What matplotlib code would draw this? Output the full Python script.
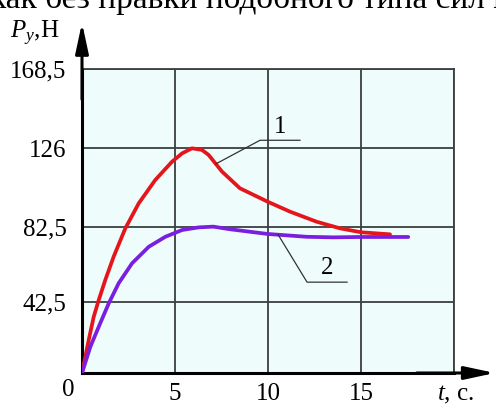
import numpy as np
import matplotlib
matplotlib.use("Agg")
import matplotlib.pyplot as plt
from matplotlib.scale import FuncScale

# ---- data ----
t1 = [0, 0.36, 0.63, 0.90, 1.25, 1.70, 2.33, 3.05, 3.94, 4.84, 5.38, 5.91, 6.45, 6.81,
      7.17, 7.53, 8.49, 9.98, 11.18, 12.62, 13.87, 15.0, 16.56]
p1 = [0, 19.8, 33.8, 43.7, 54.3, 66.7, 81.8, 95.6, 108.5, 118.6, 123.2, 126.0, 125.1, 122.3,
      117.7, 113.1, 103.9, 96.5, 91.0, 85.4, 81.8, 79.7, 78.6]
t2 = [0, 0.45, 0.90, 1.44, 1.97, 2.69, 3.59, 4.48, 5.38, 6.27, 7.06, 7.96, 9.98, 12.08,
      13.51, 15.0, 17.54]
p2 = [0, 15.8, 27.8, 41.9, 52.6, 63.2, 72.0, 77.3, 80.9, 82.3, 82.7, 81.3, 78.8, 77.3,
      77.0, 77.2, 77.2]

x_ticks = [5, 10, 15]
x_ticklabels = ["5", "10", "15"]
y_ticks = [42.5, 82.5, 126, 168.5]
y_ticklabels = ["42,5", "82,5", "126", "168,5"]
# non-uniform vertical scale of the original drawing (value -> relative height)
y_scale_vals = [0, 42.5, 82.5, 126, 168.5]
y_scale_pos = [0, 70.7, 146, 224.7, 304]

label1_line_t = [7.2, 9.57, 11.72]
label1_line_p = [117.4, 130.3, 130.3]
label1_text = (10.65, 137.3, "1")
label2_line_t = [10.54, 12.1, 14.25]
label2_line_p = [78.5, 53.2, 53.2]
label2_text = (13.17, 60.6, "2")

serif = ["Liberation Serif", "DejaVu Serif"]
plt.rcParams["font.family"] = serif
plt.rcParams["mathtext.fontset"] = "custom"
plt.rcParams["mathtext.rm"] = "Liberation Serif"
plt.rcParams["mathtext.it"] = "Liberation Serif:italic"

fig = plt.figure(figsize=(4.96, 4.05), dpi=100)
W, H = 496, 405
ax = fig.add_axes([82 / W, (H - 373) / H, (454 - 82) / W, (373 - 69) / H])

fwd = lambda v: np.interp(v, y_scale_vals, y_scale_pos)
inv = lambda p: np.interp(p, y_scale_pos, y_scale_vals)
ax.set_yscale(FuncScale(ax, (fwd, inv)))

ax.set_facecolor("#effcfc")
ax.set_xlim(0, 20)
ax.set_ylim(0, 168.5)

gridc = "#3a3f3f"
ax.set_xticks([5, 10, 15, 20])
ax.set_yticks(y_ticks)
ax.grid(True, color=gridc, lw=1.3)
ax.set_axisbelow(True)
ax.set_xticklabels(x_ticklabels + [""], fontsize=18)
ax.set_yticklabels(y_ticklabels, fontsize=18)
ax.tick_params(length=0)
ax.tick_params(axis="x", pad=7)
ax.tick_params(axis="y", pad=11)

for s in ["top", "right"]:
    ax.spines[s].set_color(gridc)
    ax.spines[s].set_linewidth(1.3)
for s in ["left", "bottom"]:
    ax.spines[s].set_color("black")
    ax.spines[s].set_linewidth(2.2)

ax.plot(t1, p1, color="#e4161c", lw=2.7, solid_capstyle="round", solid_joinstyle="round", zorder=3)
ax.plot(t2, p2, color="#7a1fe0", lw=2.7, solid_capstyle="round", solid_joinstyle="round", zorder=3)

ax.plot(label1_line_t, label1_line_p, color="#333333", lw=0.9, zorder=4)
ax.plot(label2_line_t, label2_line_p, color="#333333", lw=0.9, zorder=4)
ax.text(label1_text[0], label1_text[1], label1_text[2], fontsize=18, ha="center", va="center")
ax.text(label2_text[0], label2_text[1], label2_text[2], fontsize=18, ha="center", va="center")

# axis arrows
ax.annotate("", xy=(0, 1.152), xytext=(0, 0.9), xycoords="axes fraction",
            arrowprops=dict(arrowstyle="-|>,head_length=1.3,head_width=0.28",
                            color="black", lw=2.2, mutation_scale=14, shrinkA=0, shrinkB=0),
            annotation_clip=False)
ax.annotate("", xy=(1.11, 0), xytext=(0.9, 0), xycoords="axes fraction",
            arrowprops=dict(arrowstyle="-|>,head_length=1.3,head_width=0.28",
                            color="black", lw=2.2, mutation_scale=14, shrinkA=0, shrinkB=0),
            annotation_clip=False)

# labels
fig.text(68 / W, 1 - 390 / H, "0", fontsize=18, ha="center", va="center")
fig.text(437 / W, 1 - 400 / H, r"$t$, с.", fontsize=18, ha="left", va="baseline")
fig.text(10 / W, 1 - 33 / H, r"$P_y$,Н", fontsize=18, ha="left", va="center")

# clipped line of surrounding document text
fig.text(-10 / W, 1 - 8 / H, "как без правки подобного типа сил н", fontsize=24,
         ha="left", va="baseline")

fig.savefig("out.png", dpi=100)
